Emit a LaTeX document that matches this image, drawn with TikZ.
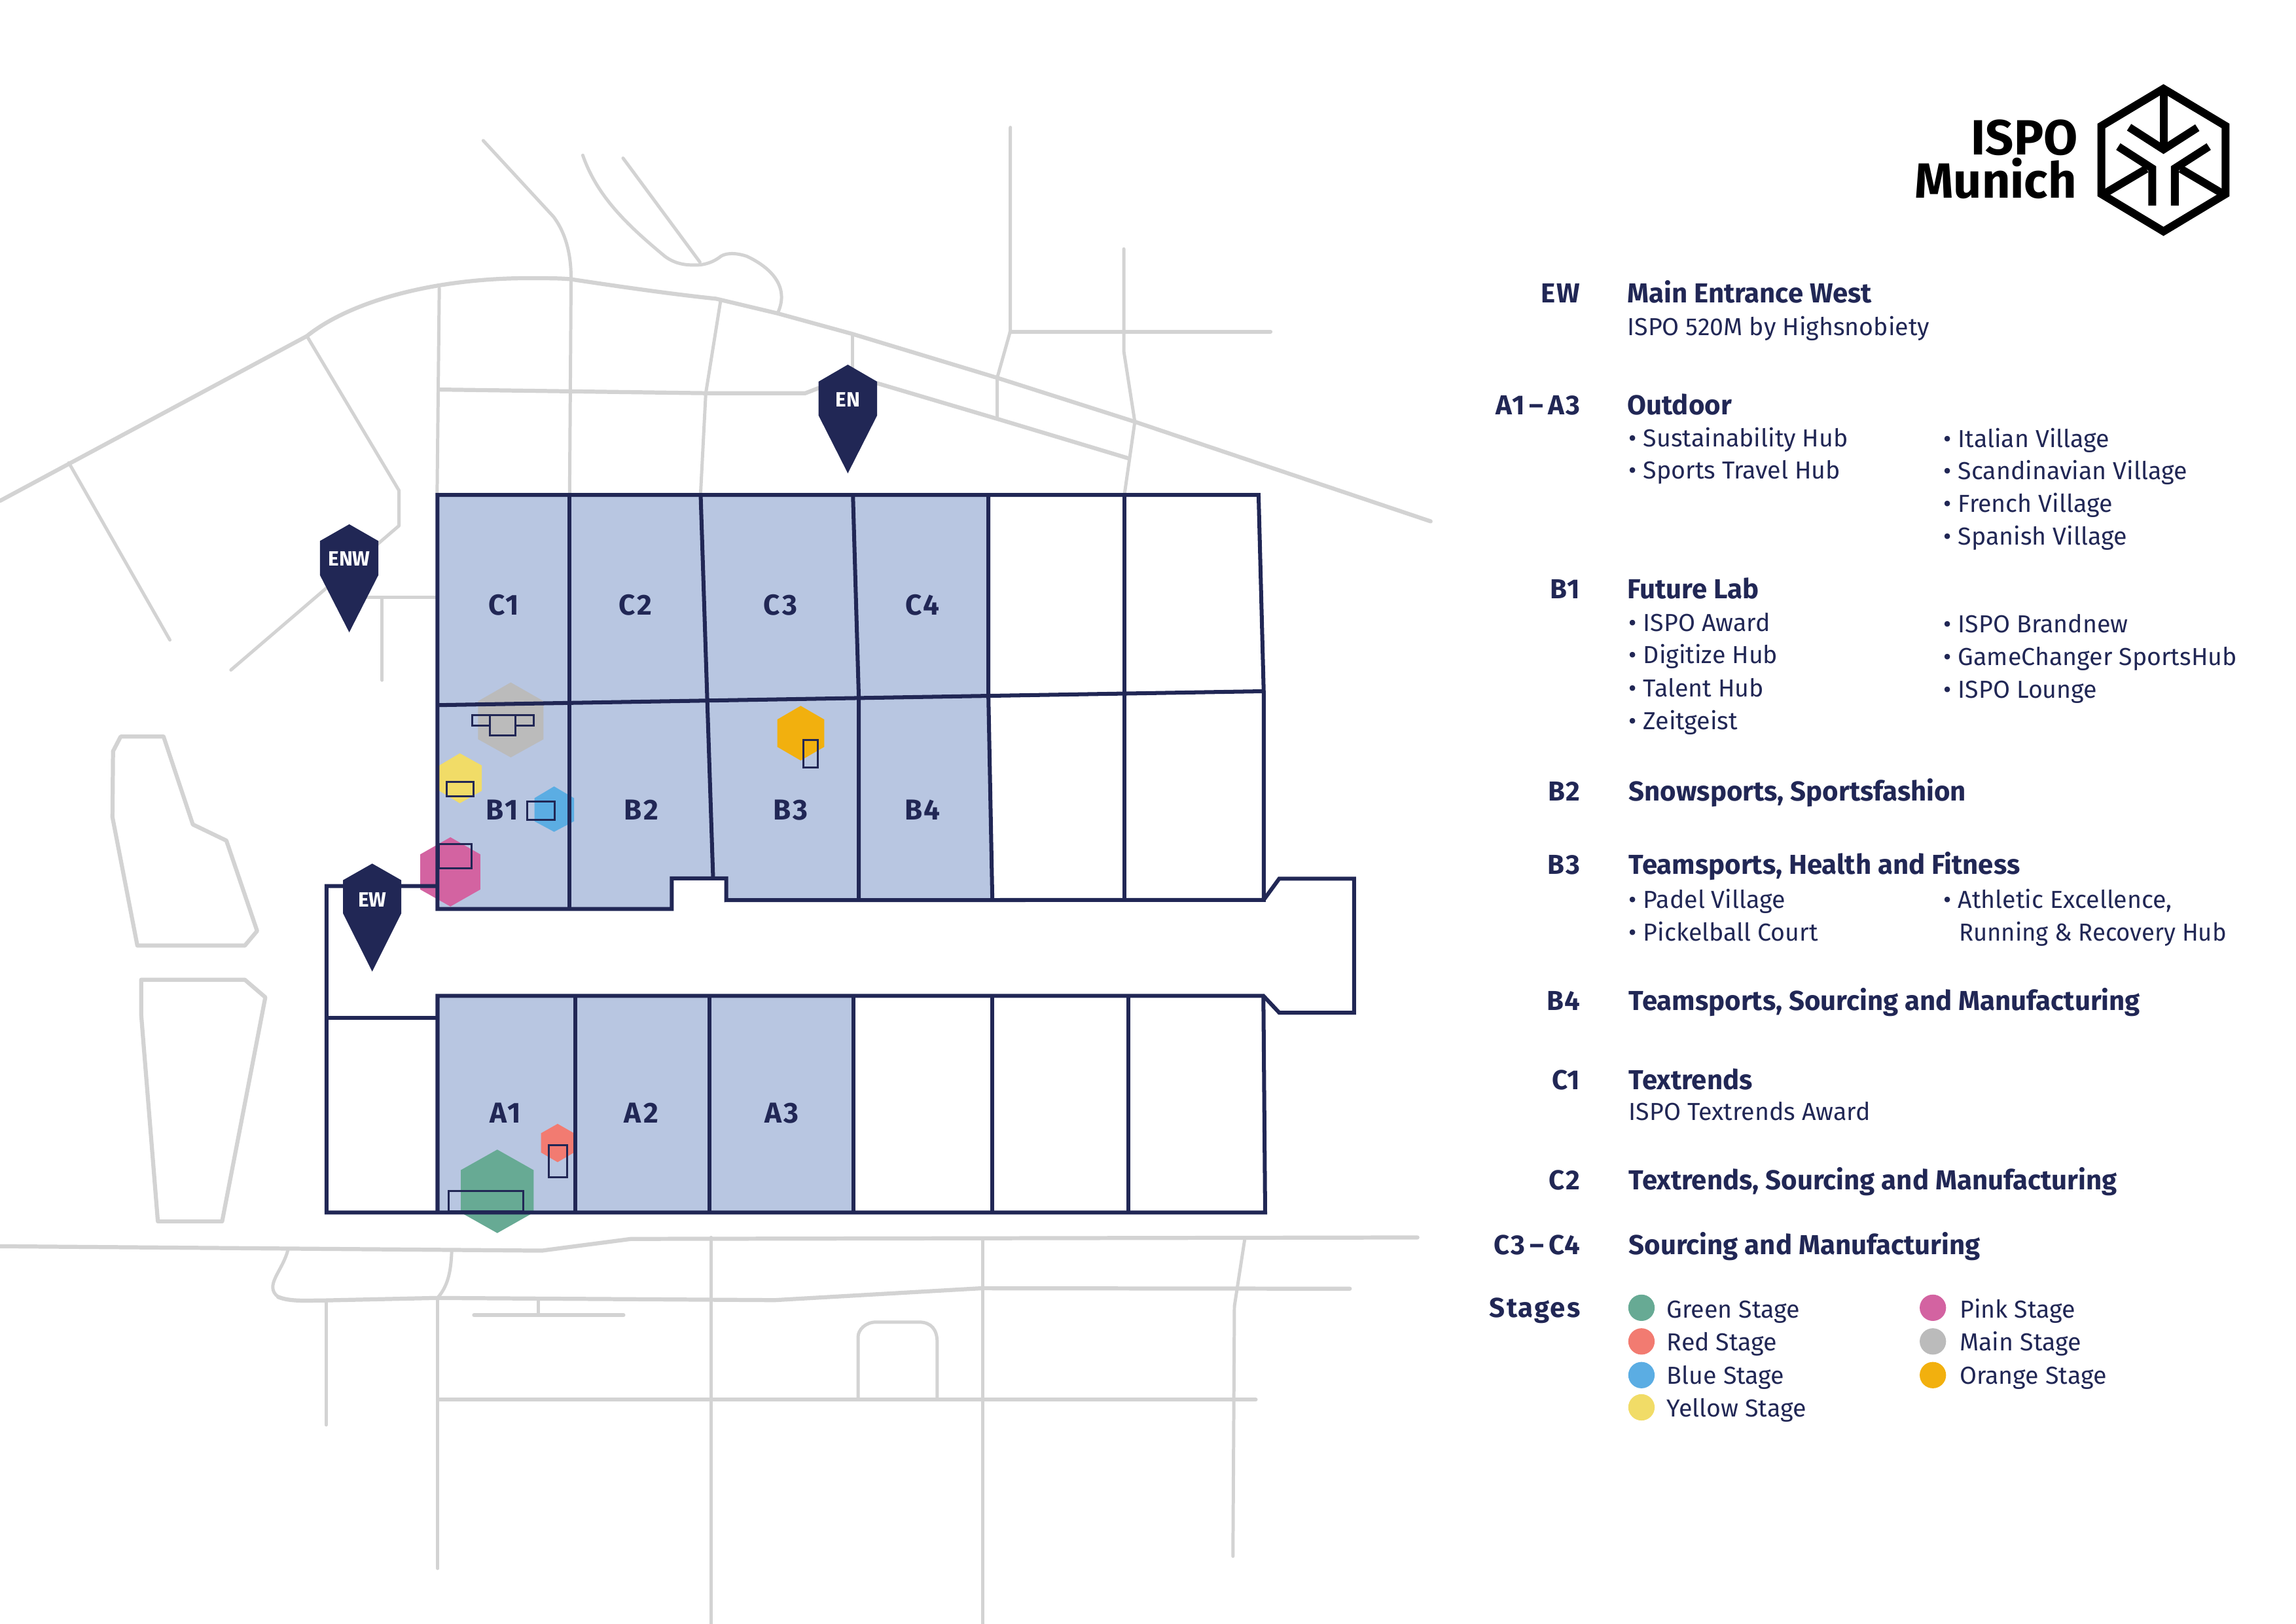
\documentclass[tikz,border=0pt]{standalone}
\usepackage{fontspec}
\setmainfont{Fira Sans}
\definecolor{navy}{HTML}{212755}
\definecolor{hallblue}{HTML}{B8C6E1}
\definecolor{road}{HTML}{D3D3D3}
\definecolor{cgreen}{HTML}{67AA94}
\definecolor{cred}{HTML}{F27B71}
\definecolor{cblue}{HTML}{5BADE3}
\definecolor{cyellow}{HTML}{F1DC67}
\definecolor{cpink}{HTML}{D363A1}
\definecolor{cgray}{HTML}{BBBBBB}
\definecolor{corange}{HTML}{F2B00E}
\tikzset{
  thinroad/.style={draw=road,line width=1.2pt,line cap=round,line join=round},
  thickroad/.style={draw=road,line width=1.5pt,line cap=round,line join=round},
  wall/.style={draw=navy,line width=1.45pt,line join=miter,line cap=butt},
  stagebox/.style={draw=navy,line width=0.72pt},
  pinshape/.style={fill=navy,draw=none},
  pinlabel/.style={text=white,font=\fontsize{7.6}{9}\selectfont\bfseries,inner sep=0pt,anchor=center},
  halllabel/.style={text=navy,font=\fontsize{10.6}{12}\selectfont\bfseries\addfontfeature{LetterSpace=7},inner sep=0pt,anchor=center},
  keyl/.style={text=navy,font=\fontsize{10.1}{12}\selectfont\bfseries\addfontfeature{LetterSpace=5},inner sep=0pt,anchor=base east},
  headl/.style={text=navy,font=\fontsize{10.1}{12}\selectfont\bfseries,inner sep=0pt,anchor=base west},
  item/.style={text=navy,font=\fontsize{9.05}{12}\selectfont,inner sep=0pt,anchor=base west},
  logotext/.style={text=black,font=\fontsize{18.2}{20}\selectfont\bfseries,inner sep=0pt,anchor=base east},
  logoline/.style={draw=black,line width=2.9pt,line cap=butt,line join=miter},
}
\begin{document}
\begin{tikzpicture}[x=0.0189413cm,y=-0.0189413cm]
\useasboundingbox (0,0) rectangle (1568,1108.9);
% ---- roads
\path[thickroad] (0,342) -- (209.6,229.5) .. controls (240,205) and (300,189) .. (367,190) .. controls (375,190) and (383,190) .. (390,190.7) .. controls (425,196) and (460,201) .. (489,204) -- (531,214) -- (582,228) -- (681,258) -- (775,288) -- (977,356);
\path[thinroad] (330,96) -- (378,148) .. controls (387,160) and (390,175) .. (390,190) -- (389,338);
\path[thinroad] (398,106) .. controls (408,135) and (430,155) .. (454,175) .. controls (462,181) and (470,181) .. (475,181) .. controls (483,181) and (488,178) .. (491,176) .. controls (494,173) and (501,172) .. (510,175) .. controls (525,182) and (540,195) .. (531,214);
\path[thinroad] (425.5,108) -- (478,179);
\path[thinroad] (300,197) -- (298.5,338);
\path[thinroad] (492,206) -- (482,268.5) -- (478.5,336);
\path[thickroad] (299.6,266) -- (482,268.5) -- (550,268.5) -- (559,265);
\path[thickroad] (598.7,261.6) -- (681,286) -- (770.7,313);
\path[thinroad] (582,229) -- (582,258);
\path[thinroad] (690,87) -- (690,226) -- (681,258) -- (681,286);
\path[thickroad] (690,226.5) -- (867.6,226.5);
\path[thinroad] (767.5,170) -- (767.5,240) -- (775,288) -- (768,337);
\path[thinroad] (47,316) -- (116,437);
\path[thinroad] (209.6,229.5) -- (272.5,335) -- (272.5,359) -- (157.7,457.5);
\path[thinroad] (249.5,407.8) -- (297.5,407.8);
\path[thinroad] (261,409) -- (261,464.5);
\path[thickroad] (82.4,503) -- (111.7,503) -- (131.7,563) -- (154.6,574) -- (175.6,635.7) -- (167.2,645.7) -- (93.8,645.7) -- (76.8,558) -- (77.2,513) -- cycle;
\path[thickroad] (96.4,669) -- (167.2,669) -- (181.2,681) -- (151.7,834) -- (107.8,834) -- (96.4,692.6) -- cycle;
\path[thickroad] (0,851) -- (370,854) -- (431,846) -- (968,845);
\path[thinroad] (196.6,853.6) .. controls (193,868) and (180,878) .. (190,885.6);
\path[thickroad] (190,885.6) .. controls (198,889) and (210,888) .. (221.4,888) -- (298,886.3) -- (529,887.8) -- (670,879.7) -- (921.8,880);
\path[thinroad] (308.5,854.5) .. controls (308,865) and (307,877) .. (299,886);
\path[thinroad] (222.7,889) -- (222.7,973);
\path[thinroad] (299,887) -- (299,1071);
\path[thinroad] (367.5,888) -- (367.5,897);
\path[thickroad] (323.8,898) -- (425.7,898);
\path[thinroad] (485.6,845) -- (485.6,1109);
\path[thinroad] (671,846.6) -- (671,1109);
\path[thinroad] (850,846.6) -- (843,892) -- (842,1062.7);
\path[thickroad] (299,955.8) -- (857.5,955.8);
\path[thinroad] (586,954.5) -- (586,913) .. controls (586,908) and (591,902.8) .. (598.4,902.8) -- (627.6,902.8) .. controls (636,902.8) and (640,908) .. (640,916.4) -- (640,954.5);
% ---- halls fill
\fill[hallblue] (298.7,338) -- (675,338) -- (675,475) -- (678,614.7) -- (496,614.7) -- (496,600) -- (459,600) -- (459,620.7) -- (298.7,620.7) -- cycle;
\fill[hallblue] (298.7,680) -- (583,680) -- (583,828) -- (298.7,828) -- cycle;
% ---- stage hexagons
\fill[cgray] (348.8,466) -- (371.2,478.8) -- (371.2,504.8) -- (348.8,517.2) -- (326.5,504.8) -- (326.5,478.8) -- cycle;
\fill[cyellow] (314,514.4) -- (329,522.7) -- (329,540) -- (314,548.5) -- (300,540) -- (300,522.7) -- cycle;
\fill[cblue] (378.4,537) -- (392,545) -- (392,560.8) -- (378.4,568) -- (365,560.8) -- (365,545) -- cycle;
\fill[cpink] (307.6,571.7) -- (328,583.4) -- (328,607.4) -- (307.6,619) -- (287,607.4) -- (287,583.4) -- cycle;
\fill[cgreen] (339.6,785) -- (364.4,799) -- (364.4,828) -- (339.6,842) -- (314.7,828) -- (314.7,799) -- cycle;
\fill[cred] (380.8,767.4) -- (392,773.8) -- (392,787) -- (380.8,793.6) -- (369.5,787) -- (369.5,773.8) -- cycle;
\fill[corange] (546.8,482) -- (562.9,491.3) -- (562.9,510) -- (546.8,519.3) -- (530.8,510) -- (530.8,491.3) -- cycle;
% ---- walls
\path[wall] (298.7,338) -- (859.5,338) -- (863,472) -- (863,614.5) -- (496,614.7) -- (496,599.8) -- (458.8,599.8) -- (458.8,620.7) -- (298.7,620.7) -- cycle;
\path[wall] (298.7,481.5) -- (863,472);
\path[wall] (389,338) -- (389,620.7);
\path[wall] (478.5,338) -- (483,478) -- (487,600);
\path[wall] (582.5,338) -- (586.5,477) -- (586.5,614.7);
\path[wall] (675,338) -- (675,475) -- (677.7,614.7);
\path[wall] (767.7,338) -- (767.7,614.7);
\path[wall] (863,614.5) -- (873.6,600) -- (924.7,600) -- (924.7,691.5) -- (873.6,691.5) -- (862.8,680) -- (298.8,680) -- (298.8,828);
\path[wall] (862.8,680) -- (864,828) -- (223,828) -- (223,605) -- (298.7,605);
\path[wall] (223,695) -- (298.8,695);
\path[wall] (393,680) -- (393,828);
\path[wall] (484.5,680) -- (484.5,828);
\path[wall] (583,680) -- (583,828);
\path[wall] (677.6,680) -- (677.6,828);
\path[wall] (770.8,680) -- (770.8,828);
% ---- stage boxes
\draw[stagebox] (322.5,488.2) rectangle (334.6,495.3);
\draw[stagebox] (352,488.2) rectangle (364.3,495.3);
\draw[stagebox] (334.6,488.2) rectangle (352,502.3);
\draw[stagebox] (304.9,534) rectangle (323.5,543.8);
\draw[stagebox] (360,547.3) rectangle (378.6,560);
\draw[stagebox] (299.7,576.3) rectangle (321.9,592.8);
\draw[stagebox] (306.4,813.1) rectangle (357.2,827);
\draw[stagebox] (374.8,781.8) rectangle (387.1,803.8);
\draw[stagebox] (548.5,505.1) rectangle (558.3,523.9);
% ---- pins
\fill[pinshape] (254.2,589.7) -- (274,601) -- (274,623.8) -- (254.2,663.4) -- (234.3,623.8) -- (234.3,601) -- cycle;
\fill[pinshape] (579,249) -- (599,260.6) -- (599,283.7) -- (579,323.2) -- (559,283.7) -- (559,260.6) -- cycle;
\fill[pinshape] (238.5,358) -- (258.4,369.4) -- (258.4,392.7) -- (238.5,431.8) -- (218.5,392.7) -- (218.5,369.4) -- cycle;
\node[pinlabel] (pinEW) at (254.2,614.5) {EW};
\node[pinlabel] (pinEN) at (579,273) {EN};
\node[pinlabel] (pinENW) at (238.5,381.5) {ENW};
% ---- hall labels
\node[halllabel] (hC1) at (344,413) {C1};
\node[halllabel] (hC2) at (434,413) {C2};
\node[halllabel] (hC3) at (533,413) {C3};
\node[halllabel] (hC4) at (630,413) {C4};
\node[halllabel] (hB1) at (343,553) {B1};
\node[halllabel] (hB2) at (438,553) {B2};
\node[halllabel] (hB3) at (540,553) {B3};
\node[halllabel] (hB4) at (630,553) {B4};
\node[halllabel] (hA1) at (345,760) {A1};
\node[halllabel] (hA2) at (438,760) {A2};
\node[halllabel] (hA3) at (534,760) {A3};
% ---- logo
\node[logotext] (logoA) at (1419.4,105.5) {ISPO};
\node[logotext] (logoB) at (1418.5,135) {Munich};
\path[logoline] (1477.5,60.6) -- (1519.9,86) -- (1519.9,132.5) -- (1477.5,158) -- (1435.1,132.5) -- (1435.1,86) -- cycle;
\path[logoline] (1477.5,60) -- (1477.5,99);
\path[logoline] (1454,86.9) -- (1477.5,102) -- (1500.6,87.2);
\path[logoline] (1446.6,100.1) -- (1469.8,115) -- (1469.8,140.4);
\path[logoline] (1508.4,100.1) -- (1485.2,115) -- (1485.2,140.4);
\path[logoline] (1437.7,131.9) -- (1465.8,115.3);
\path[logoline] (1517.3,131.9) -- (1489.2,115.3);
% ---- legend
\node[keyl] (k1) at (1079.5,206.6) {EW};
\node[headl] (t1) at (1111,206.6) {Main Entrance West};
\node[item] (i1) at (1111,229) {ISPO 520M by Highsnobiety};
\node[keyl] (k2) at (1079.5,283) {A1\,–\,A3};
\node[headl] (t2) at (1111,283) {Outdoor};
\node[item] (i2a) at (1112,305) {• Sustainability Hub};
\node[item] (i2b) at (1112,327) {• Sports Travel Hub};
\node[item] (i2c) at (1327,305.3) {• Italian Village};
\node[item] (i2d) at (1327,327.3) {• Scandinavian Village};
\node[item] (i2e) at (1327,349.8) {• French Village};
\node[item] (i2f) at (1327,372.2) {• Spanish Village};
\node[keyl] (k3) at (1079.5,408.6) {B1};
\node[headl] (t3) at (1111,408.6) {Future Lab};
\node[item] (i3a) at (1112,431) {• ISPO Award};
\node[item] (i3b) at (1112,453) {• Digitize Hub};
\node[item] (i3c) at (1112,475.8) {• Talent Hub};
\node[item] (i3d) at (1112,498.3) {• Zeitgeist};
\node[item] (i3e) at (1327,432) {• ISPO Brandnew};
\node[item] (i3f) at (1327,454.4) {• GameChanger SportsHub};
\node[item] (i3g) at (1327,476.9) {• ISPO Lounge};
\node[keyl] (k4) at (1079.5,547) {B2};
\node[headl] (t4) at (1112,547) {Snowsports, Sportsfashion};
\node[keyl] (k5) at (1079.5,597) {B3};
\node[headl] (t5) at (1112,597) {Teamsports, Health and Fitness};
\node[item] (i5a) at (1112,620) {• Padel Village};
\node[item] (i5b) at (1112,642.5) {• Pickelball Court};
\node[item] (i5c) at (1327,620) {• Athletic Excellence,};
\node[item] (i5d) at (1337.5,642.5) {\addfontfeature{FakeStretch=0.97}Running \& Recovery Hub};
\node[keyl] (k6) at (1079.5,690) {B4};
\node[headl] (t6) at (1112,690) {Teamsports, Sourcing and Manufacturing};
\node[keyl] (k7) at (1079.5,744) {C1};
\node[headl] (t7) at (1112,744) {Textrends};
\node[item] (i7) at (1112,765) {ISPO Textrends Award};
\node[keyl] (k8) at (1079.5,812.5) {C2};
\node[headl] (t8) at (1112,812.5) {Textrends, Sourcing and Manufacturing};
\node[keyl] (k9) at (1079.5,856.5) {C3\,–\,C4};
\node[headl] (t9) at (1112,856.5) {Sourcing and Manufacturing};
\node[keyl] (k10) at (1079.5,899.5) {Stages};
\fill[cgreen] (1121,893) circle (9);
\fill[cred] (1121,916) circle (9);
\fill[cblue] (1121,939) circle (9);
\fill[cyellow] (1121,961) circle (9);
\fill[cpink] (1320,893) circle (9);
\fill[cgray] (1320,916) circle (9);
\fill[corange] (1320,939) circle (9);
\node[item] (s1) at (1138,900) {Green Stage};
\node[item] (s2) at (1138,922.5) {Red Stage};
\node[item] (s3) at (1138,945) {Blue Stage};
\node[item] (s4) at (1138,967.5) {Yellow Stage};
\node[item] (s5) at (1338,900) {Pink Stage};
\node[item] (s6) at (1338,922.5) {Main Stage};
\node[item] (s7) at (1338,945) {Orange Stage};
\end{tikzpicture}
\end{document}
